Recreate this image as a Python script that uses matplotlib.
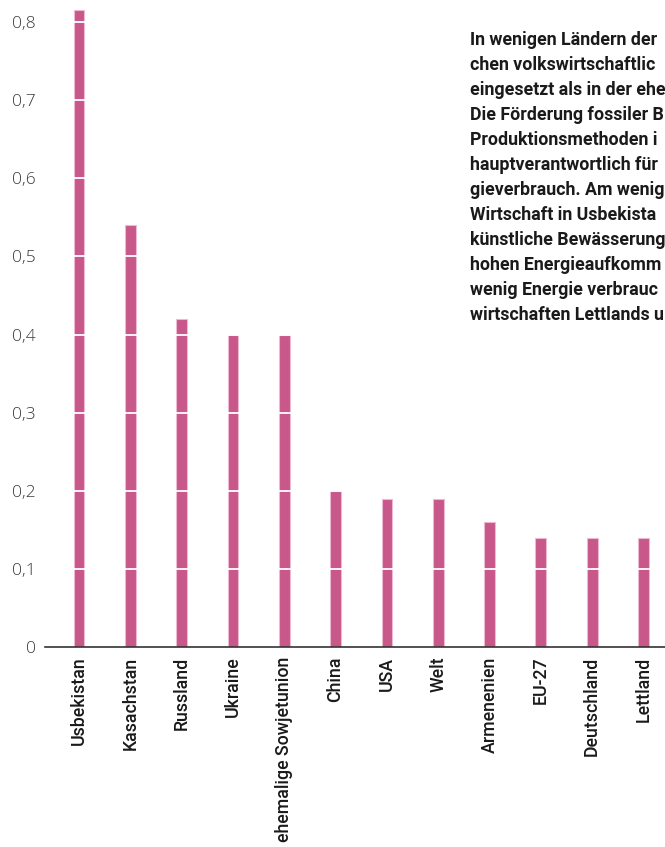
import matplotlib
matplotlib.use("Agg")
import matplotlib.pyplot as plt

plt.rcParams['font.family'] = ['Roboto', 'DejaVu Sans']

categories = ["Usbekistan", "Kasachstan", "Russland", "Ukraine",
              "ehemalige Sowjetunion", "China", "USA", "Welt",
              "Armenenien", "EU-27", "Deutschland", "Lettland"]
values = [0.815, 0.54, 0.42, 0.40, 0.40, 0.20, 0.19, 0.19, 0.16, 0.14, 0.14, 0.14]
yticks = [0, 0.1, 0.2, 0.3, 0.4, 0.5, 0.6, 0.7, 0.8]
ytick_labels = ["0", "0,1", "0,2", "0,3", "0,4", "0,5", "0,6", "0,7", "0,8"]
text_lines = [
    "In wenigen Ländern der",
    "chen volkswirtschaftlic",
    "eingesetzt als in der ehe",
    "Die Förderung fossiler B",
    "Produktionsmethoden i",
    "hauptverantwortlich für",
    "gieverbrauch. Am wenig",
    "Wirtschaft in Usbekista",
    "künstliche Bewässerung",
    "hohen Energieaufkomm",
    "wenig Energie verbrauc",
    "wirtschaften Lettlands u",
]

W, H = 665, 847
fig = plt.figure(figsize=(W / 100, H / 100), dpi=100)
ax = fig.add_axes([45 / W, (H - 647) / H, (W - 45) / W, 647 / H])

bar_color = "#C8578A"
x = range(len(categories))
ax.bar(x, values, width=0.21, color=bar_color, edgecolor="#EDB8D2",
       linewidth=0.8, zorder=2)
ax.hlines(yticks[1:], -0.7, 11.5, colors="white", linewidth=1.3, zorder=3)

ax.set_xlim(-0.663, 11.42)
ax.set_ylim(0, 0.8284)
ax.set_yticks(yticks)
ax.set_yticklabels(ytick_labels, fontsize=12.5, color="#3a3a3a",
                   family=['Open Sans', 'DejaVu Sans'], fontweight='light')
ax.set_xticks(list(x))
ax.set_xticklabels(categories, rotation=90, fontsize=12.8, color="#1a1a1a",
                   fontweight='medium', va='top', ha='center')
ax.tick_params(axis='y', length=0, pad=6.5)
ax.tick_params(axis='x', length=0, pad=7)
for s in ["top", "right", "left"]:
    ax.spines[s].set_visible(False)
ax.spines["bottom"].set_color("#333333")
ax.spines["bottom"].set_linewidth(1.2)
ax.spines["bottom"].set_zorder(4)

for i, line in enumerate(text_lines):
    y_px = 45 + 25 * i
    fig.text(470 / W, 1 - y_px / H, line, fontsize=12.8, fontweight='bold',
             color="#1a1a1a", va='baseline', ha='left')

fig.savefig("out.png", dpi=100)
